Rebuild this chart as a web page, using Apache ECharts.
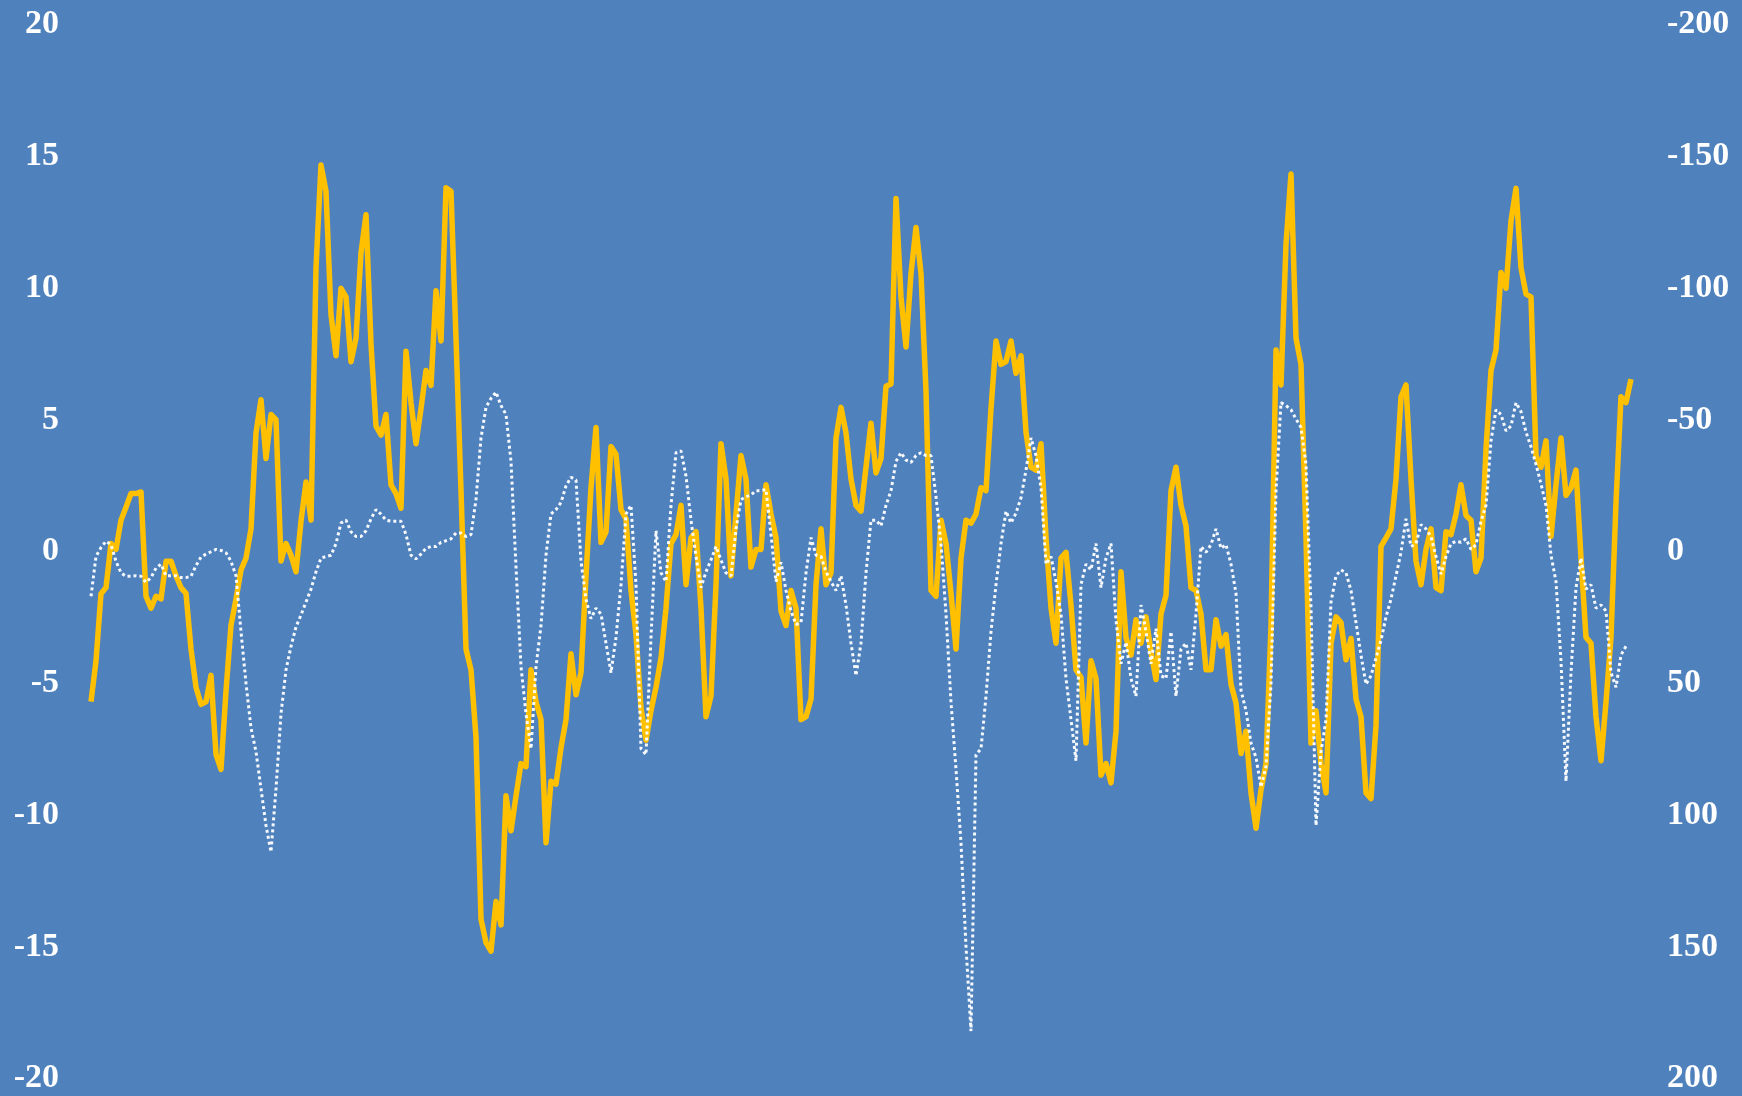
<!DOCTYPE html>
<html><head><meta charset="utf-8">
<script src="https://cdn.jsdelivr.net/npm/echarts@6/dist/echarts.min.js"></script>
<style>html,body{margin:0;padding:0;background:#4F81BD}#c{width:1742px;height:1096px}</style>
</head><body><div id="c"></div>
<script>
// Left-axis series (yellow)
const yellowValues = [
-5.7,-4.15,-1.6,-1.37,0.3,0.08,1.19,1.68,2.2,2.2,2.26,-1.7,-2.15,-1.7,-1.8,-0.37,-0.37,-0.92,-1.37,-1.59,-3.7,-5.15,-5.8,-5.7,-4.7,-7.7,-8.27,-5.3,-2.8,-1.81,-0.7,-0.25,0.86,4.5,5.76,3.53,5.2,5.0,
-0.36,0.3,-0.14,-0.77,1.15,2.64,1.19,10.77,14.67,13.67,8.99,7.43,9.99,9.66,7.2,8.1,11.33,12.78,7.88,4.76,4.42,5.2,2.53,2.2,1.64,7.6,5.65,4.09,5.42,6.87,6.3,9.9,7.99,13.8,13.67,8.1,2.31,-3.7,
-4.49,-7.05,-13.95,-14.84,-15.17,-13.28,-14.17,-9.27,-10.6,-9.27,-8.05,-8.16,-4.49,-5.71,-6.38,-11.05,-8.72,-8.83,-7.45,-6.38,-3.88,-5.44,-4.6,-0.92,2.42,4.71,0.35,0.75,3.98,3.69,1.59,1.24,-1.48,-3.15,-5.93,-7.16,-6.04,-5.15,
-4.04,-2.15,0.3,0.64,1.75,-1.26,0.52,0.75,-2.15,-6.27,-5.49,-1.26,4.09,2.75,-0.92,1.42,3.64,2.75,-0.59,0.08,0.08,2.53,1.42,0.52,-2.26,-2.81,-1.48,-2.15,-6.38,-6.27,-5.6,-1.26,0.86,-1.26,-0.81,4.31,5.47,4.5,
2.75,1.75,1.53,3.2,4.87,2.98,3.53,6.27,6.36,13.4,9.66,7.76,10.55,12.3,10.55,6.09,-1.48,-1.7,1.19,0.3,-1.59,-3.7,-0.25,1.19,1.08,1.42,2.42,2.31,5.42,7.99,7.1,7.21,7.99,6.76,7.43,4.53,3.2,3.09,
4.09,0.52,-2.15,-3.48,-0.25,-0.03,-2.04,-4.49,-4.78,-7.27,-4.15,-4.82,-8.49,-8.05,-8.78,-6.82,-0.77,-3.26,-3.93,-2.59,-3.48,-2.48,-3.81,-4.86,-2.37,-1.66,2.31,3.2,1.75,0.97,-1.37,-1.48,-2.37,-4.49,-4.49,-2.59,-3.59,-3.15,
-5.04,-5.75,-7.67,-6.82,-9.16,-10.5,-9.05,-8.05,-2.81,7.65,6.32,11.66,14.33,8.1,7.1,0.52,-7.27,-6.04,-8.05,-9.16,-3.48,-2.48,-2.7,-4.11,-3.3,-5.6,-6.27,-9.16,-9.38,-6.6,0.19,0.52,0.86,2.75,5.87,6.32,2.75,-0.36,
-1.26,0.08,0.86,-1.37,-1.48,0.75,0.64,1.42,2.53,1.37,1.19,-0.77,-0.25,3.87,6.87,7.65,10.59,9.99,12.55,13.78,10.77,9.77,9.66,3.64,3.2,4.2,0.57,2.53,4.31,2.13,2.42,3.09,-0.25,-3.26,-3.48,-6.27,-7.94,-5.71,-3.26,1.86,5.87,5.65,6.54
];
// Right-axis series (white dotted, inverted axis)
const whiteValues = [
17,1.9,-1.5,-3.9,-2.6,3.7,8.1,9.4,9.4,9.2,9.4,11.7,9.9,6.3,4.8,9.2,9.2,9.2,9.9,9.9,9.4,5.4,2.1,1,0.1,-0.8,-0.4,0.5,3.7,9.2,30.4,50,67,76,90,104,114,90,
61.6,44.9,36,28.6,24.1,19.2,14.3,7.7,2.5,1.9,1.4,-3,-10.8,-11.9,-7.5,-5.7,-5.7,-7.9,-12.4,-15.9,-14.2,-11.9,-11.5,-11.5,-11.5,-6.4,1.4,2.8,1,-1.2,-1.9,-1.9,-3.5,-4.1,-4.8,-7,-7,-5.7,
-6.4,-19.7,-43.1,-54.7,-58.1,-60.5,-55.4,-52,-34.2,5.9,43.7,61.6,74.9,43.7,28.2,1.4,-14.2,-15.9,-18.6,-24.9,-28.2,-27.1,3.7,18.1,25.5,21.5,23.7,34.8,46,32.6,12.6,-14.2,-17.5,12.6,74.9,77.1,32.6,-7.9,
8.1,11.4,-17.5,-37.5,-38.2,-28.6,-11.9,1.9,13.7,7.7,3.2,-1.9,3.2,8.1,9.2,-8.6,-19.7,-20.8,-21.5,-23.1,-23.1,-23.5,-6.4,11.4,4.1,14.8,22.6,27.7,27.0,8.1,-5.3,1.4,1.9,7.7,11.4,14.8,9.2,20.3,
34.8,47.1,34.8,8.1,-11.9,-11.9,-9.7,-17.5,-23.1,-34.2,-37.5,-34.7,-33.8,-36.4,-37.5,-36.4,-36.4,-20.8,-3,23.7,57.1,82.7,110.6,150,182,77.1,74.9,54.9,30.4,12.6,-3,-15.3,-10.8,-14.6,-20.4,-30.9,-43.1,-36.4,
-24.2,4.8,1.9,11.4,23.7,48.2,63.8,79.4,12.6,4.8,7,-3,13.7,2.5,-3,26.1,42.6,34.4,48.2,54.9,20.3,30.4,42.6,29.3,47.1,48.2,30.4,54.9,37,34.8,44.9,23.7,-1.9,0.3,-2.6,-8.6,-1.2,-2.6,
4.8,15.9,52.7,60.4,72.7,78.2,89.4,81.6,50.4,-23.1,-56.5,-55.4,-53.8,-50.3,-47.1,-33.1,21.5,104,76,63.8,19.2,9.2,7,8.1,14.8,27,39.3,50.4,47.1,40.4,33.7,24.8,18.1,9.2,0.3,-12.4,-1.9,-3,
-10.2,-8.6,-5.7,1.9,8.6,1.9,-3,-3.9,-3.5,-4.8,-0.8,-2.6,-11.5,-17.5,-42,-53.8,-52,-45.8,-47.6,-56.5,-53.1,-45.3,-39.8,-33.1,-25.7,-17.5,1.4,11.4,41.5,87.2,46,13.7,2.5,14.3,12.6,21.5,20.3,22.6,46,51.5,39.3,35.9,null
];
const categories = yellowValues.map((_, i) => String(i + 1));
const leftAxisRange = [-20, 20, 5];
const rightAxisRange = [-200, 200, 50];

const labelStyle = {color: '#FFFFFF', fontSize: 34, fontWeight: 'bold', fontFamily: "'Liberation Serif','Times New Roman',serif", padding: [8, 0, 0, 0]};
const chart = echarts.init(document.getElementById('c'));
chart.setOption({
  backgroundColor: '#4F81BD',
  animation: false,
  grid: {left: 91, width: 1540, top: 24.5, height: 1054},
  xAxis: {type: 'category', data: categories, boundaryGap: false, show: false},
  yAxis: [
    {type: 'value', min: leftAxisRange[0], max: leftAxisRange[1], interval: leftAxisRange[2],
     axisLine: {show: false}, axisTick: {show: false}, splitLine: {show: false},
     axisLabel: Object.assign({margin: 32}, labelStyle)},
    {type: 'value', position: 'right', inverse: true, min: rightAxisRange[0], max: rightAxisRange[1], interval: rightAxisRange[2],
     axisLine: {show: false}, axisTick: {show: false}, splitLine: {show: false},
     axisLabel: Object.assign({margin: 36, align: 'left'}, labelStyle)}
  ],
  series: [
    {type: 'line', data: yellowValues, yAxisIndex: 0, symbol: 'none', z: 2,
     lineStyle: {color: '#FFC000', width: 5.5, join: 'round'}},
    {type: 'line', data: whiteValues, yAxisIndex: 1, symbol: 'none', z: 3,
     lineStyle: {color: '#FFFFFF', width: 3, type: [3, 3], opacity: 0.95}}
  ]
});
</script></body></html>
